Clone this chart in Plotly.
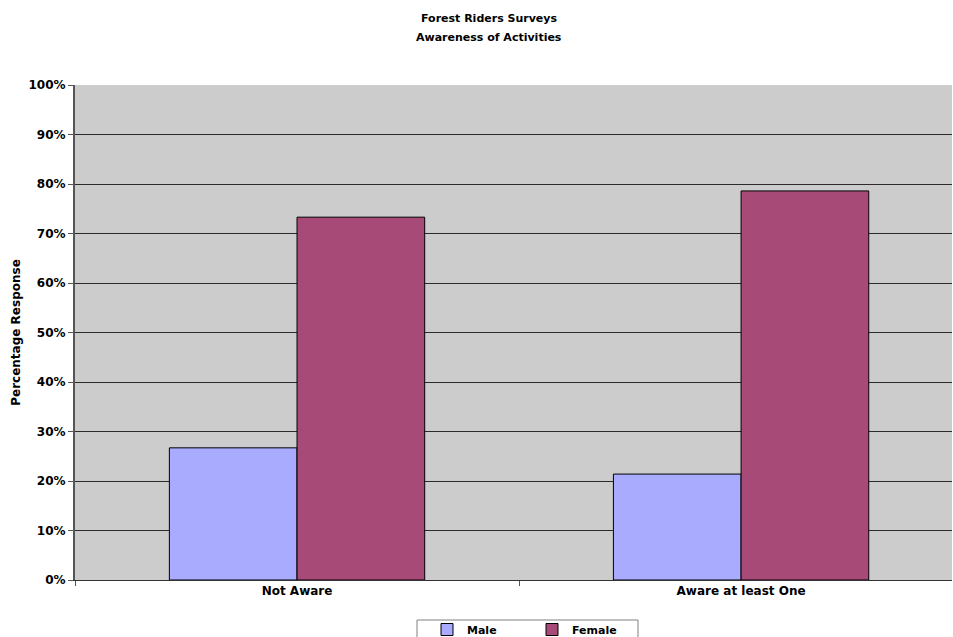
import plotly.graph_objects as go

categories = ["Not Aware", "Aware at least One"]
male = [26.7, 21.4]
female = [73.3, 78.6]
series_names = ["Male", "Female"]
y_ticks = [0, 10, 20, 30, 40, 50, 60, 70, 80, 90, 100]
y_tick_labels = [f"{v}%" for v in y_ticks]
title_lines = ["Forest Riders Surveys", "Awareness of Activities"]

FONT = "DejaVu Sans"
W, H = 953, 637
L, R, T, B = 75, 1, 85, 57
PW, PH = W - L - R, H - T - B

fig = go.Figure()
fig.add_trace(go.Bar(x=categories, y=male, name=f"<b>{series_names[0]}</b>",
                     marker=dict(color="#a9abff", line=dict(color="#000000", width=1))))
fig.add_trace(go.Bar(x=categories, y=female, name=f"<b>{series_names[1]}</b>",
                     marker=dict(color="#a84a78", line=dict(color="#000000", width=1))))

fig.update_layout(
    width=W, height=H,
    margin=dict(l=L, r=R, t=T, b=B, autoexpand=False),
    paper_bgcolor="white",
    plot_bgcolor="#cccccc",
    barmode="group",
    bargap=0.425,
    bargroupgap=0,
    font=dict(family=FONT, size=12, color="#000000"),
    legend=dict(orientation="h", x=(427 - L) / PW, xanchor="left", y=-35 / PH, yanchor="top",
                bgcolor="rgba(0,0,0,0)", borderwidth=0,
                font=dict(family=FONT, size=11, color="#000000"),
                itemwidth=30, entrywidth=60, entrywidthmode="pixels", traceorder="normal"),
    showlegend=True,
)
# title lines
for i, line in enumerate(title_lines):
    fig.add_annotation(text=f"<b>{line}</b>", xref="paper", yref="paper",
                       x=(489 - L) / PW, y=1 + (T - (18 + 19 * i)) / PH,
                       xanchor="center", yanchor="middle", showarrow=False,
                       font=dict(family=FONT, size=11, color="#000000"))
# legend frame
fig.add_shape(type="rect", xref="paper", yref="paper",
              x0=(417 - L) / PW, x1=(638 - L) / PW,
              y0=-(H - T - PH + 5) / PH - 0.05, y1=-40 / PH,
              line=dict(color="#808080", width=1), fillcolor="white", layer="below")

fig.update_xaxes(
    type="category",
    range=[-0.5, 1.475],
    showgrid=False,
    showline=True, linecolor="#333333", linewidth=1,
    ticks="outside", tickson="boundaries", ticklen=5, tickcolor="#555555",
    tickfont=dict(family=FONT, size=12, color="#000000"),
    ticktext=[f"<b>{c}</b>" for c in categories], tickvals=categories,
)
fig.update_yaxes(
    range=[0, 100],
    tickvals=y_ticks, ticktext=[f"<b>{t}</b>" for t in y_tick_labels],
    showgrid=True, gridcolor="#2a2a2a", gridwidth=1,
    showline=True, linecolor="#555555", linewidth=2,
    ticks="outside", ticklen=5, tickcolor="#555555",
    zeroline=False,
    tickfont=dict(family=FONT, size=12, color="#000000"),
    title=dict(text="<b>Percentage Response</b>", font=dict(family=FONT, size=12, color="#000000"), standoff=5),
)

fig.write_html("out.html", config={"displayModeBar": False},
               post_script="document.body.style.margin='0';document.body.style.overflow='hidden';")
